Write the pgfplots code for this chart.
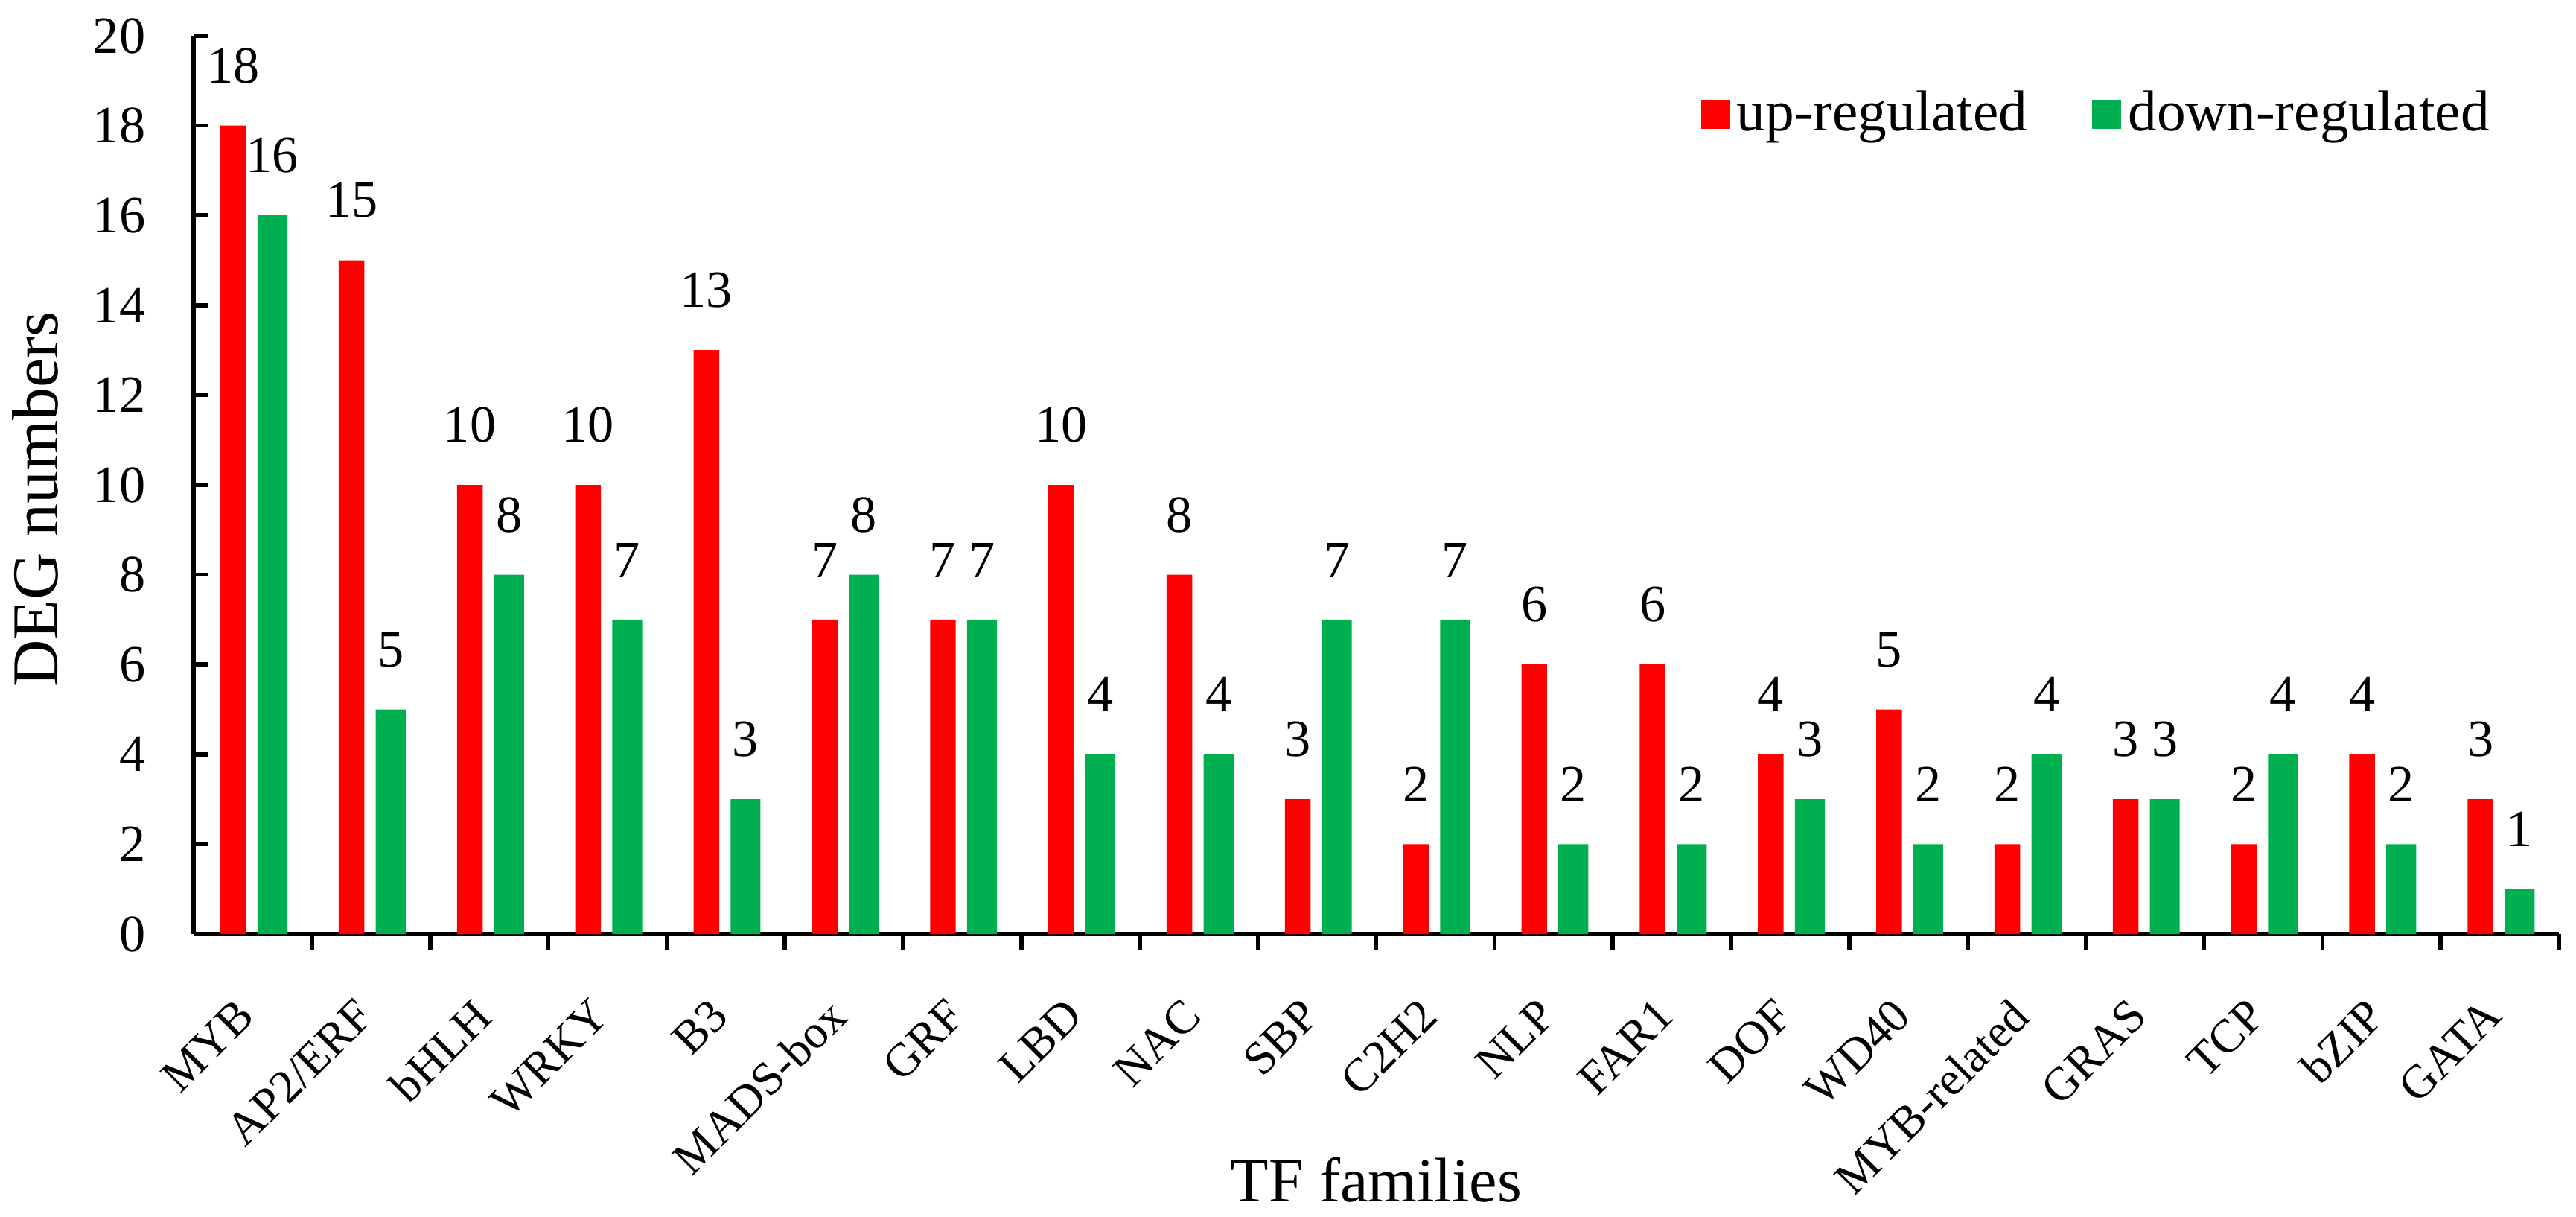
\documentclass[border=0pt]{standalone}
\usepackage{fontspec}
\setmainfont{Liberation Serif}
\usepackage{pgfplots}
\pgfplotsset{compat=1.18}
\usepackage{pgfplotstable}
\definecolor{upred}{RGB}{255,0,0}
\definecolor{downgreen}{RGB}{0,176,80}
\pgfplotstableread{
x up down
0 18 16
1 15 5
2 10 8
3 10 7
4 13 3
5 7 8
6 7 7
7 10 4
8 8 4
9 3 7
10 2 7
11 6 2
12 6 2
13 4 3
14 5 2
15 2 4
16 3 3
17 2 4
18 4 2
19 3 1
}\datatable
\begin{document}
\begin{tikzpicture}
\begin{axis}[
  name=ax,
  scale only axis,
  width=158.85mm, height=60.3mm,
  xmin=-0.5, xmax=19.5,
  ymin=0, ymax=20,
  ytick={0,2,...,20},
  xtick={0,...,19},
  xticklabels={MYB,AP2/ERF,bHLH,WRKY,B3,MADS-box,GRF,LBD,NAC,SBP,C2H2,NLP,FAR1,DOF,WD40,MYB-related,GRAS,TCP,bZIP,GATA},
  minor xtick={0.5,1.5,...,19.5},
  axis x line*=bottom,
  axis y line*=left,
  axis line style={line width=0.8pt, black},
  tick align=inside,
  major tick style={line width=0.8pt, black},
  minor tick style={line width=0.8pt, black},
  major x tick style={draw=none},
  major tick length=1mm,
  minor tick length=1.1mm,
  /pgf/number format/assume math mode=true,
  yticklabel style={font=\fontsize{10}{12}\selectfont, xshift=-2mm},
  xticklabel style={font=\fontsize{9}{11}\selectfont, xshift=-1.2mm, yshift=-3.1mm, rotate=45, anchor=north east, inner sep=0pt},
  ylabel={DEG numbers},
  ylabel style={font=\fontsize{12.5}{14}\selectfont, at={(axis description cs:0,0.484)}, anchor=base, yshift=9.1mm},
  xlabel={TF families},
  xlabel style={font=\fontsize{12}{14}\selectfont, at={(axis description cs:0.5,0)}, anchor=base, yshift=-17.95mm},
  ybar,
  nodes near coords,
  every node near coord/.append style={font=\fontsize{10}{12}\selectfont, black, yshift=1.6mm},
  legend style={at={(1,1)}, anchor=north east, xshift=-4.15mm, yshift=-3.15mm,
    draw=none, fill=none, inner sep=0pt,
    legend columns=2, font=\fontsize{11}{13}\selectfont,
    nodes={inner sep=0.45mm},
    /tikz/every even column/.append style={column sep=3.9mm}},
  legend image code/.code={\fill (0mm,-0.975mm) rectangle (1.95mm,0.975mm);},
  clip=false,
]
\addplot[fill=upred, draw=none, bar width=0.217, bar shift=-0.164] table[x=x, y=up] {\datatable};
\addlegendentry{up-regulated}
\addplot[fill=downgreen, draw=none, bar width=0.253, bar shift=0.167] table[x=x, y=down] {\datatable};
\addlegendentry{down-regulated}
\end{axis}
\pgfresetboundingbox
\path ([xshift=-13mm, yshift=-18.95mm]ax.south west) rectangle ([xshift=1.15mm, yshift=2.4mm]ax.north east);
\end{tikzpicture}
\end{document}
